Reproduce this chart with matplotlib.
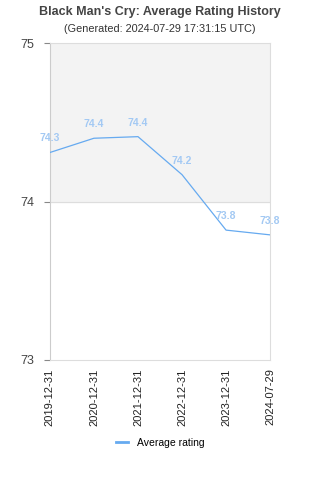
import matplotlib.pyplot as plt

plt.rcParams['font.family'] = ['Liberation Sans', 'DejaVu Sans']

dates = ['2019-12-31', '2020-12-31', '2021-12-31', '2022-12-31', '2023-12-31', '2024-07-29']
ratings = [74.31, 74.40, 74.41, 74.17, 73.82, 73.79]
labels = ['74.3', '74.4', '74.4', '74.2', '73.8', '73.8']

line_color = '#66aaf0'
label_color = '#a3c9f3'

fig = plt.figure(figsize=(3.2, 4.8), dpi=100)
ax = fig.add_axes([0.156, 0.25, 0.688, 0.66])

x = list(range(len(dates)))
ax.axhspan(74, 75, color='#f3f3f3', zorder=0)
ax.plot(x, ratings, color=line_color, linewidth=0.9, label='Average rating', zorder=3)

for xi, yi, lab in zip(x, ratings, labels):
    ax.annotate(lab, (xi, yi), xytext=(0, 6.5), textcoords='offset points',
                ha='center', va='bottom', fontsize=7.5, color=label_color,
                fontweight='bold', zorder=4)

ax.set_xlim(0, len(dates) - 1)
ax.set_ylim(73, 75)
ax.set_yticks([73, 74, 75])
ax.set_xticks(x)
ax.set_xticklabels(dates, rotation=90, fontsize=8, color='#222222')
ax.tick_params(axis='y', labelsize=9, colors='#444444', length=4, width=0.8, pad=7)
ax.tick_params(axis='y', color='#888888')
ax.tick_params(axis='x', length=0, pad=6)
ax.axhline(74, color='#dddddd', linewidth=0.8, zorder=1)

for side in ['top', 'right', 'bottom', 'left']:
    ax.spines[side].set_color('#dddddd')
    ax.spines[side].set_linewidth(0.8)
ax.spines['left'].set_color('#cccccc')

fig.text(0.5, 0.976, "Black Man's Cry: Average Rating History", ha='center', va='center',
         fontsize=9, fontweight='bold', color='#444444')
fig.text(0.5, 0.94, '(Generated: 2024-07-29 17:31:15 UTC)', ha='center', va='center',
         fontsize=7.8, color='#333333')

fig.legend(loc='center', bbox_to_anchor=(0.5, 0.078), frameon=False, fontsize=7.5,
           handlelength=1.2, handletextpad=0.8)
leg = fig.legends[0]
for h in leg.get_lines():
    h.set_linewidth(2)

fig.savefig('out.png', dpi=100)
